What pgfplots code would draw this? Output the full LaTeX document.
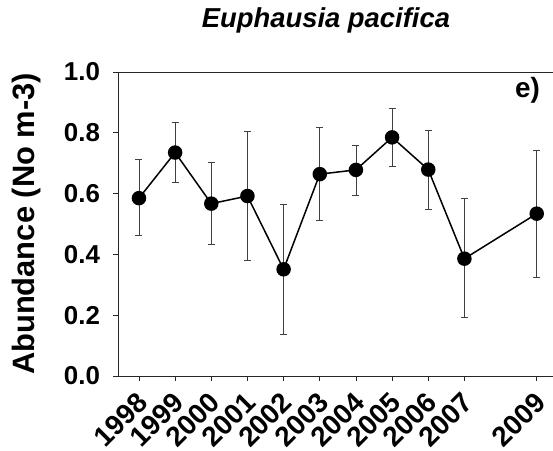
\documentclass[border=0pt]{standalone}
\usepackage{pgfplots}
\pgfplotsset{compat=1.18}
\usepackage{pgfplotstable}
\usepackage{fontspec}
\setmainfont{Liberation Sans}
\pgfplotstableread{
x y ep em
1998 0.585 0.128 0.124
1999 0.735 0.099 0.098
2000 0.567 0.135 0.134
2001 0.592 0.213 0.212
2002 0.351 0.214 0.215
2003 0.664 0.154 0.153
2004 0.678 0.081 0.083
2005 0.785 0.094 0.094
2006 0.679 0.128 0.131
2007 0.386 0.197 0.193
2009 0.534 0.208 0.211
}\datatable
\begin{document}
\begin{tikzpicture}
\begin{axis}[
  scale only axis,
  width=435bp, height=304bp,
  xmin=1997.42, xmax=2009.45,
  ymin=0, ymax=1,
  axis x line=box, axis y line=left,
  axis line style={-, line width=0.8bp, black!85},
  xtick={1998,1999,2000,2001,2002,2003,2004,2005,2006,2007,2009},
  xticklabels={1998,1999,2000,2001,2002,2003,2004,2005,2006,2007,2009},
  ytick={0,0.2,0.4,0.6,0.8,1.0},
  xtick pos=bottom, ytick pos=left,
  tick align=outside,
  major tick length=5bp,
  tick style={line width=0.8bp, black!85},
  /pgf/number format/assume math mode=true,
  yticklabel style={/pgf/number format/fixed, /pgf/number format/fixed zerofill, /pgf/number format/precision=1, xshift=-9.5bp},
  tick label style={font=\bfseries\fontsize{26}{26}\selectfont},
  xticklabel style={font=\bfseries\fontsize{28}{28}\selectfont, xshift=6bp, yshift=-14bp, rotate=45, anchor=east},
  ylabel={Abundance (No m-3)},
  ylabel style={font=\bfseries\fontsize{31}{31}\selectfont, at={(axis description cs:-0.191,0.5)}, anchor=base},
  title={Euphausia pacifica},
  title style={font=\bfseries\itshape\fontsize{27.5}{27.5}\selectfont, at={(axis description cs:0.478,1)}, anchor=base, yshift=38.7bp},
  clip=false,
]
\addplot[black, line width=1.5bp, mark=*, mark size=6.5bp, mark options={solid, fill=black},
  error bars/.cd, y dir=both, y explicit,
  error bar style={line width=0.8bp, black!75},
  error mark options={rotate=90, mark size=3.5bp, line width=0.8bp, black!75}]
  table[x=x, y=y, y error plus=ep, y error minus=em]{\datatable};
\node[anchor=base east, inner sep=0, font=\bfseries\fontsize{28}{28}\selectfont] at (rel axis cs:1,1) [xshift=-13bp, yshift=-25.5bp] {e)};
\end{axis}
\pgfresetboundingbox
\path[use as bounding box] (-118bp,-75bp) rectangle (435bp,376bp);
\end{tikzpicture}
\end{document}
